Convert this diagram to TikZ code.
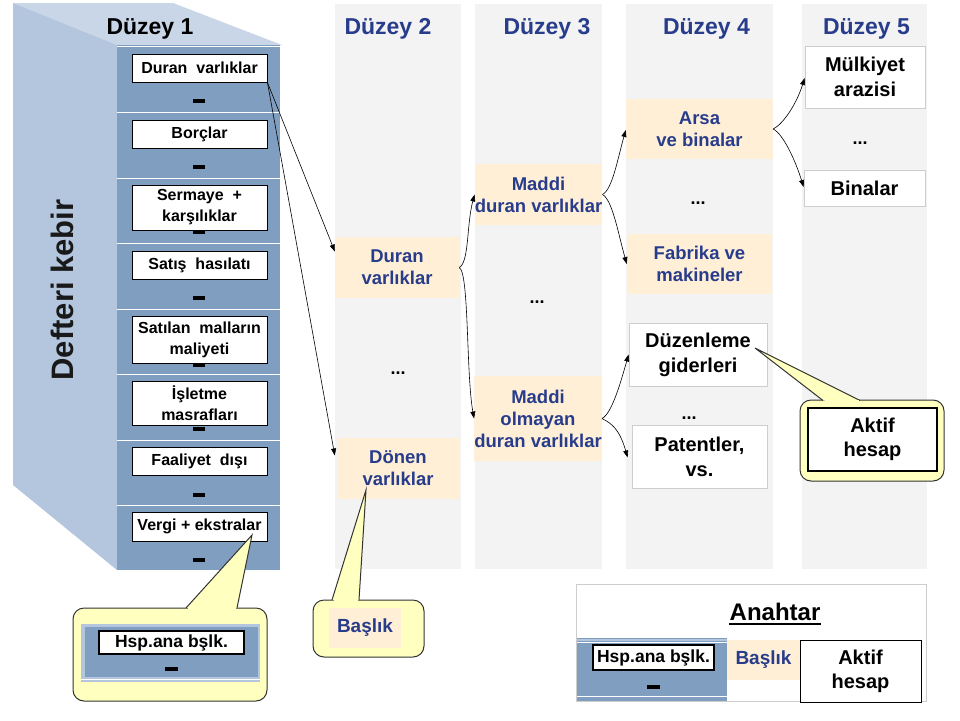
\documentclass[tikz,border=0pt]{standalone}
\usepackage{fontspec}
\setmainfont{Liberation Sans}
\usetikzlibrary{arrows.meta,calc}
\definecolor{front}{RGB}{128,158,191}
\definecolor{side}{RGB}{180,198,221}
\definecolor{topf}{RGB}{201,214,231}
\definecolor{colgray}{RGB}{243,243,243}
\definecolor{peach}{RGB}{255,239,214}
\definecolor{dblue}{RGB}{40,60,140}
\definecolor{callout}{RGB}{255,255,192}
\definecolor{boxgray}{RGB}{205,205,205}
\begin{document}
\begin{tikzpicture}[x=1pt,y=-1pt,
 drw/.style={draw=black, line width=0.9pt, fill=white, inner sep=0pt, align=center, minimum width=135pt, font=\fontsize{16}{21}\selectfont\bfseries},
 dsh/.style={fill=black, minimum width=12pt, minimum height=4.5pt, inner sep=0pt},
 lvl/.style={fill=peach, inner sep=0pt, align=center, text=dblue, font=\fontsize{18.5}{22}\selectfont\bfseries},
 wbox/.style={draw=boxgray, line width=0.8pt, fill=white, inner sep=0pt, align=center, font=\fontsize{20}{25}\selectfont\bfseries},
 hdr/.style={anchor=base, text=dblue, font=\fontsize{23}{26}\selectfont\bfseries},
 dotsty/.style={font=\fontsize{18}{20}\selectfont\bfseries},
 arr/.style={-{Triangle[length=7pt,width=5pt]}, line width=0.6pt},
 cobox/.style={draw=black!80, line width=1pt, fill=callout, rounded corners=11pt},
 coptr/.style={draw=black!80, line width=1pt, fill=callout},
 blk/.style={draw=black, line width=1.2pt, fill=white, inner sep=0pt, align=center, font=\fontsize{20}{24}\selectfont\bfseries},
 hsp/.style={draw=black, line width=1.2pt, fill=white, inner sep=0pt, align=center, font=\fontsize{17.5}{20}\selectfont\bfseries}
]
\useasboundingbox (0,0) rectangle (960,720);
\fill[white] (0,0) rectangle (960,720);

% columns
\fill[colgray] (335,4) rectangle (461,569);
\fill[colgray] (475,4) rectangle (602,569);
\fill[colgray] (626,4) rectangle (773,569);
\fill[colgray] (802,4) rectangle (927,569);

% cabinet
\fill[topf] (13,3) -- (173,3) -- (282,45) -- (117,45) -- cycle;
\fill[side] (13,3) -- (117,45) -- (117,570) -- (13,485) -- cycle;
\fill[front] (117,45) rectangle (280,570);
\foreach \yy in {46,112,178,243,309,374,440,505}
  \draw[white, line width=0.8pt] (117,\yy) -- (280,\yy);

\node[rotate=90, text=black!90, font=\fontsize{31}{34}\selectfont\bfseries] (dk) at (62,290) {Defteri kebir};
\node[anchor=base, font=\fontsize{23}{26}\selectfont\bfseries] (h1) at (150,34) {Düzey 1};

\node[drw, minimum height=28pt] (d1) at (199.5,68) {Duran\ \ varlıklar};
\node[drw, minimum height=28pt] (d2) at (199.5,134) {Borçlar};
\node[drw, minimum height=45pt] (d3) at (199.5,207.5) {Sermaye\ \ +\\karşılıklar};
\node[drw, minimum height=28pt] (d4) at (199.5,265) {Satış\ \ hasılatı};
\node[drw, minimum height=47pt] (d5) at (199.5,339.5) {Satılan\ \ malların\\maliyeti};
\node[drw, minimum height=44pt] (d6) at (199.5,403) {İşletme\\masrafları};
\node[drw, minimum height=28pt] (d7) at (199.5,461) {Faaliyet\ \ dışı};
\node[drw, minimum height=29pt] (d8) at (199.5,526.5) {Vergi + ekstralar};
\foreach \yy [count=\i] in {101,167,232,298,365,429,495,560}
  \node[dsh] (ds\i) at (199,\yy) {};

% headers
\node[hdr] (h2) at (388,34) {Düzey 2};
\node[hdr] (h3) at (547,34) {Düzey 3};
\node[hdr] (h4) at (706.5,34) {Düzey 4};
\node[hdr] (h5) at (866.5,34) {Düzey 5};

% level 2
\node[lvl, minimum width=124pt, minimum height=61pt] (l2a) at (397,267.5) {Duran\\varlıklar};
\node[dotsty] (l2d) at (398,373) {...};
\node[lvl, minimum width=122pt, minimum height=61pt] (l2b) at (398,468.5) {Dönen\\varlıklar};
% level 3
\node[lvl, minimum width=123pt, minimum height=61pt] (l3a) at (538.5,194.5) {Maddi\\duran varlıklar};
\node[dotsty] (l3d) at (537,302) {...};
\node[lvl, minimum width=116pt, minimum height=85pt] (l3b) at (538,418.5) {Maddi\\olmayan\\duran varlıklar};
% level 4
\node[lvl, minimum width=147pt, minimum height=60pt] (l4a) at (699.5,129) {Arsa\\ve binalar};
\node[dotsty] (l4d1) at (698,203) {...};
\node[lvl, minimum width=145pt, minimum height=60pt] (l4b) at (699.5,264) {Fabrika ve\\makineler};
\node[wbox, minimum width=138pt, minimum height=63pt] (l4c) at (698,354.5) {Düzenleme\\giderleri};
\node[dotsty] (l4d2) at (689,418) {...};
\node[wbox, minimum width=135pt, minimum height=63pt] (l4e) at (699.5,456.5) {Patentler,\\vs.};
% level 5
\node[wbox, minimum width=120pt, minimum height=62pt] (l5a) at (865,77) {Mülkiyet\\arazisi};
\node[dotsty] (l5d) at (860,143) {...};
\node[wbox, minimum width=121pt, minimum height=36pt] (l5b) at (864.5,188) {Binalar};

% straight arrows
\draw[arr] (d1.south east) -- ($(l2a.west)+(0,-16)$);
\draw[arr] (d1.south east) -- ($(l2b.west)+(-2,-13)$);
% curly arrows
\draw[arr] (l2a.east) .. controls +(10,-5) and +(-8,30) .. (l3a.west);
\draw[arr] (l2a.east) .. controls +(10,5) and +(-8,-45) .. (l3b.west);
\draw[arr] (l3a.east) .. controls +(10,-5) and +(-8,28) .. ($(l4a.west)+(0,1)$);
\draw[arr] (l3a.east) .. controls +(10,5) and +(-8,-28) .. (l4b.west);
\draw[arr] (l3b.east) .. controls +(10,-5) and +(-8,28) .. (l4c.west);
\draw[arr] (l3b.east) .. controls +(10,5) and +(-8,-28) .. ($(l4e.west)+(-4,1)$);
\draw[arr] (l4a.east) .. controls +(10,-5) and +(-8,26) .. ($(l5a.west)+(0,1)$);
\draw[arr] (l4a.east) .. controls +(10,5) and +(-8,-26) .. ($(l5b.west)+(0,-1)$);

% callout: Aktif hesap
\node[cobox, minimum width=144pt, minimum height=81pt] (ca) at (872,440.5) {};
\coordinate (catip) at (755,348);
\draw[coptr] (823,400.5) -- (catip) -- (860,400.5);
\fill[callout] (824.5,399.6) rectangle (858.5,401.6);
\node[blk, minimum width=129pt, minimum height=63pt] (cai) at (872.5,439.5) {Aktif\\hesap};

% callout: Baslik
\node[cobox, minimum width=111pt, minimum height=57pt] (cb) at (368.5,628.5) {};
\coordinate (cbtip) at (366,490);
\draw[coptr] (332,600) -- (cbtip) -- (359,600);
\fill[callout] (333.5,599.1) rectangle (357.5,601.1);
\node[fill=peach, minimum width=72pt, minimum height=40pt, inner sep=0pt, text=dblue, font=\fontsize{19}{22}\selectfont\bfseries] (cbi) at (365,628) {Başlık};

% callout: Hsp.ana bslk.
\node[cobox, minimum width=194pt, minimum height=93pt] (ch) at (170,654.5) {};
\coordinate (chtip) at (252,535);
\draw[coptr] (186,608) -- (chtip) -- (237,608);
\fill[callout] (187.5,607.1) rectangle (235.5,609.1);
\fill[side] (81,624) rectangle (260,682);
\fill[front] (85,627) rectangle (258,677);
\draw[white, line width=0.8pt] (81,679) -- (260,679);
\node[hsp, minimum width=145pt, minimum height=23pt] (chl) at (171.5,642.5) {Hsp.ana bşlk.};
\node[dsh, minimum width=13pt] (chd) at (171.5,669) {};

% key
\node[draw=boxgray, line width=0.8pt, fill=white, minimum width=350pt, minimum height=117pt, inner sep=0pt] (key) at (751,642.5) {};
\node[anchor=base, inner sep=0pt, font=\fontsize{24}{27}\selectfont\bfseries] (ank) at (775,620) {Anahtar};
\draw[line width=2.5pt] ($(ank.base west)+(0,4)$) -- ($(ank.base east)+(0,4)$);
\fill[front] (577,638) rectangle (727,701);
\draw[side, line width=2pt] (577,640) -- (727,640);
\draw[white, line width=0.8pt] (577,642) -- (727,642);
\draw[white, line width=0.8pt] (577,696) -- (727,696);
\node[hsp, minimum width=121pt, minimum height=25pt] (kl) at (653.5,657.5) {Hsp.ana bşlk.};
\node[dsh, minimum width=13pt] (kd) at (653.5,687) {};
\node[fill=peach, minimum width=73pt, minimum height=40pt, inner sep=0pt, text=dblue, font=\fontsize{19}{22}\selectfont\bfseries] (kb) at (763.5,660) {Başlık};
\node[blk, line width=1pt, minimum width=121pt, minimum height=62pt] (ka) at (860.5,671) {Aktif\\hesap};
\end{tikzpicture}
\end{document}
